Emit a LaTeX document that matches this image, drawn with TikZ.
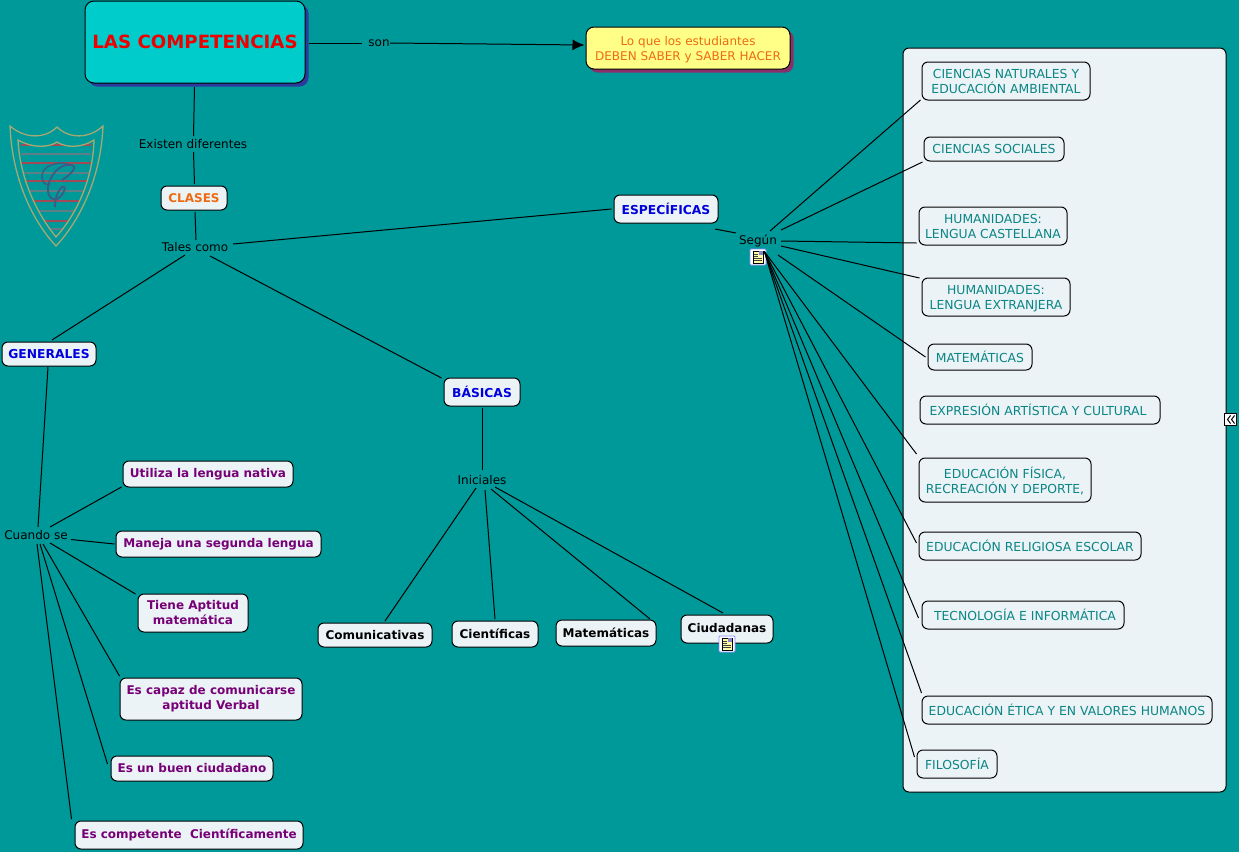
\documentclass[tikz,border=0pt]{standalone}
\usepackage{fontspec}
\setmainfont{DejaVu Sans}
\usetikzlibrary{arrows.meta, shadows}

\definecolor{fondo}{HTML}{009999}
\definecolor{caja}{HTML}{ECF3F6}
\definecolor{teal}{HTML}{0B8585}
\definecolor{morado}{HTML}{770077}
\definecolor{azulfuerte}{HTML}{0000DD}
\definecolor{naranja}{HTML}{EE6A11}
\definecolor{escudo}{HTML}{A5A873}
\definecolor{raya}{HTML}{A24A55}
\definecolor{rayagris}{HTML}{5F7F86}
\definecolor{letra}{HTML}{3A5C85}

\tikzset{
    concepto/.style={draw=black, line width=1pt, fill=caja, rounded corners=6pt, inner sep=0pt, align=center, font=\fontsize{12}{15}\selectfont},
    area/.style={concepto, text=teal, text depth=-1pt, font=\fontsize{12.4}{15}\selectfont},
    habilidad/.style={concepto, text=morado, font=\fontsize{12}{15}\selectfont\bfseries},
    clase/.style={concepto, text=azulfuerte, text depth=-2pt, font=\fontsize{12.3}{15}\selectfont\bfseries},
    inicial/.style={concepto, text=black, text depth=-1pt, font=\fontsize{12}{15}\selectfont\bfseries},
    frase/.style={inner sep=0pt, font=\fontsize{12}{15}\selectfont},
    enlace/.style={line width=1pt, black},
    icono/.style={draw=blue!45, line width=0.8pt, fill=white, rounded corners=1pt, minimum size=16pt, inner sep=0pt}
}

\begin{document}
\begin{tikzpicture}[x=1pt, y=-1pt]
    \useasboundingbox (0,0) rectangle (1239,852);
    \fill[fondo] (0,0) rectangle (1239,852);

    % Escudo
    \begin{scope}
        \clip (18,140) .. controls (32,148) and (48,148) .. (57,142) .. controls (66,148) and (82,148) .. (94,140) .. controls (93,180) and (76,215) .. (56,237) .. controls (38,215) and (20,180) .. (18,140) -- cycle;
        \foreach \y/\tono in {145/raya, 154/rayagris, 163/raya, 173/rayagris, 181/raya, 191/rayagris, 201/raya, 211/rayagris, 221/raya, 229/rayagris} {
            \draw[\tono, line width=1.8pt] (21,\y) -- (91,\y);
        }
    \end{scope}
    \draw[escudo, line width=1.3pt] (10,126) .. controls (25,139) and (45,139) .. (57,127) .. controls (69,139) and (89,139) .. (103,126) .. controls (101,175) and (82,218) .. (56,246) .. controls (30,218) and (12,175) .. (10,126) -- cycle;
    \draw[escudo, line width=1.3pt] (18,140) .. controls (32,148) and (48,148) .. (57,142) .. controls (66,148) and (82,148) .. (94,140) .. controls (93,180) and (76,215) .. (56,237) .. controls (38,215) and (20,180) .. (18,140) -- cycle;
    \draw[letra, line width=1.8pt] (62,180) .. controls (72,174) and (78,166) .. (71,165) .. controls (60,163) and (50,175) .. (48,187) .. controls (47,198) and (54,203) .. (60,197) .. controls (66,191) and (66,185) .. (62,187) .. controls (58,190) and (55,198) .. (55,207);
    \draw[letra, line width=1.4pt] (71,165) .. controls (58,160) and (42,166) .. (42,176) .. controls (42,183) and (46,186) .. (50,184);

    % Panel de areas
    \draw[draw=black, line width=1pt, fill=caja, rounded corners=6pt] (903,48) rectangle (1226,792);

    % Conceptos principales
    \node[concepto, fill={rgb,255:red,0;green,204;blue,204}, text={rgb,255:red,238;green,0;blue,0}, font=\fontsize{18.2}{20}\selectfont\bfseries, minimum width=220pt, minimum height=82pt, rounded corners=9pt, drop shadow={shadow xshift=3.5pt, shadow yshift=-3.5pt, fill={rgb,255:red,43;green,58;blue,156}, opacity=1}] (las) at (195,42) {LAS COMPETENCIAS};
    \node[concepto, fill={rgb,255:red,255;green,255;blue,136}, text=naranja, text depth=-1pt, minimum width=204pt, minimum height=42pt, rounded corners=8pt, drop shadow={shadow xshift=3.5pt, shadow yshift=-3.5pt, fill={rgb,255:red,139;green,47;blue,107}, opacity=1}] (nota) at (688,48) {Lo que los estudiantes\\DEBEN SABER y SABER HACER};
    \node[concepto, text=naranja, font=\fontsize{12}{15}\selectfont\bfseries, minimum width=66pt, minimum height=24pt] (clases) at (194,198) {CLASES};
    \node[clase, minimum width=104pt, minimum height=28pt] (espec) at (666,209) {ESPECÍFICAS};
    \node[clase, minimum width=94pt, minimum height=24pt] (gen) at (49,354) {GENERALES};
    \node[clase, minimum width=76pt, minimum height=28pt] (bas) at (482,392) {BÁSICAS};

    % Frases de enlace
    \node[frase] (son) at (379,43) {son};
    \node[frase] (existen) at (193,144) {Existen diferentes};
    \node[frase] (tales) at (195,247) {Tales como};
    \node[frase] (segun) at (758,241) {Según};
    \node[frase] (iniciales) at (482,480) {Iniciales};
    \node[frase] (cuando) at (36,535) {Cuando se};

    % Generales
    \foreach \nombre/\cx/\cy/\w/\h/\texto in {
        utiliza/208/474/170/26/{Utiliza la lengua nativa},
        maneja/218.5/544/205/26/{Maneja una segunda lengua},
        tiene/193/613/110/38/{Tiene Aptitud\\matemática},
        capaz/211/699/182/42/{Es capaz de comunicarse\\aptitud Verbal},
        ciudadano/192/768.5/162/25/{Es un buen ciudadano},
        compet/189/835/228/28/{Es competente\ \ Científicamente}} {
        \node[habilidad, minimum width=\w pt, minimum height=\h pt] (\nombre) at (\cx,\cy) {\texto};
    }

    % Basicas
    \foreach \nombre/\cx/\cy/\w/\h/\texto in {
        comun/375/635/114/24/Comunicativas,
        cient/495/634/86/26/Científicas,
        mate/606/633/100/26/Matemáticas} {
        \node[inicial, minimum width=\w pt, minimum height=\h pt] (\nombre) at (\cx,\cy) {\texto};
    }
    \node[inicial, text depth=3pt, minimum width=92pt, minimum height=28pt] (ciud) at (727,629) {Ciudadanas};

    % Especificas
    \foreach \nombre/\cx/\cy/\w/\h/\texto in {
        cnat/1006/81/168/38/{CIENCIAS NATURALES Y\\EDUCACIÓN AMBIENTAL},
        csoc/994/149/140/24/{CIENCIAS SOCIALES},
        lcas/993/226/148/38/{HUMANIDADES:\\LENGUA CASTELLANA},
        lext/996/297/148/38/{HUMANIDADES:\\LENGUA EXTRANJERA},
        amat/980/357/104/26/{MATEMÁTICAS},
        expr/1040/410/240/28/{EXPRESIÓN ARTÍSTICA Y CULTURAL\ },
        fisi/1005/480/172/44/{EDUCACIÓN FÍSICA,\\RECREACIÓN Y DEPORTE,},
        reli/1030/546/222/28/{EDUCACIÓN RELIGIOSA ESCOLAR},
        tecn/1023/615/202/28/{\ TECNOLOGÍA E INFORMÁTICA},
        etic/1067/710/290/28/{EDUCACIÓN ÉTICA Y EN VALORES HUMANOS},
        filo/957/764/80/28/{FILOSOFÍA}} {
        \node[area, minimum width=\w pt, minimum height=\h pt] (\nombre) at (\cx,\cy) {\texto};
    }

    % Iconos
    \node[icono] (iconsegun) at (758,257) {};
    \node[icono] (iconciud) at (727,644) {};
    \foreach \i in {iconsegun, iconciud} {
        \fill[yellow!35] ([shift={(-5,-6)}]\i.center) rectangle ([shift={(5,6)}]\i.center);
        \draw[black, line width=0.6pt] ([shift={(-5,-6)}]\i.center) rectangle ([shift={(5,6)}]\i.center);
        \fill[blue!35!gray!70] ([shift={(1,-6)}]\i.center) rectangle ([shift={(5,-2)}]\i.center);
        \foreach \d in {-3,-1} {
            \draw[black!75, line width=0.5pt] ([shift={(-4,\d)}]\i.center) -- ([shift={(0,\d)}]\i.center);
        }
        \foreach \d in {1.5,3.5} {
            \draw[black!75, line width=0.5pt] ([shift={(-4,\d)}]\i.center) -- ([shift={(4,\d)}]\i.center);
        }
    }

    % Boton de plegar
    \node[draw=black, fill=white, line width=0.8pt, minimum size=12pt, inner sep=0pt] (plegar) at (1230.5,419.5) {};
    \foreach \d in {-3,1} {
        \draw[black, line width=1pt] ([shift={(\d+3,-4)}]plegar.center) -- ([shift={(\d,0)}]plegar.center) -- ([shift={(\d+3,4)}]plegar.center);
    }

    % Enlaces
    \draw[enlace] ([shift={(114,1.5)}]las.center) -- ([shift={(-17,0.5)}]son.center);
    \draw[enlace, -{Latex[length=12pt, width=11pt]}] ([shift={(11,0)}]son.center) -- ([shift={(-1,-3)}]nota.west);
    \draw[enlace] ([shift={(-0.5,45)}]las.center) -- ([shift={(0.5,-8)}]existen.center);
    \draw[enlace] ([shift={(0.5,8)}]existen.center) -- ([shift={(0.5,-14)}]clases.center);
    \draw[enlace] ([shift={(1,14)}]clases.center) -- ([shift={(1,-7)}]tales.center);
    \draw[enlace] ([shift={(38,-3)}]tales.center) -- ([shift={(-2,0)}]espec.west);
    \draw[enlace] ([shift={(-10,8)}]tales.center) -- ([shift={(3,-14)}]gen.center);
    \draw[enlace] ([shift={(15,9)}]tales.center) -- ([shift={(-2,-14)}]bas.west);
    \draw[enlace] ([shift={(49,20)}]espec.center) -- ([shift={(-22,-8)}]segun.center);
    \draw[enlace] ([shift={(-1,13)}]gen.center) -- ([shift={(2,-8)}]cuando.center);
    \draw[enlace] ([shift={(0.5,16)}]bas.center) -- ([shift={(0.5,-10)}]iniciales.center);

    % Desde Cuando se
    \foreach \sx/\sy/\destino/\dx/\dy in {
        14/-8/utiliza/-1/13,
        35/4.5/maneja/-1/0,
        14/8/tiene/-2/-19,
        7/9/capaz/0/-23,
        4/9/ciudadano/-3/-4.5,
        1/9/compet/-3/-16} {
        \draw[enlace] ([shift={(\sx,\sy)}]cuando.center) -- ([shift={(\dx,\dy)}]\destino.west);
    }

    % Desde Iniciales
    \foreach \sx/\sy/\destino/\dx/\dy in {
        -6/8/comun/10/-14,
        3/10/cient/0/-15,
        9/9/mate/44/-14,
        13/7/ciud/-4/-16} {
        \draw[enlace] ([shift={(\sx,\sy)}]iniciales.center) -- ([shift={(\dx,\dy)}]\destino.center);
    }

    % Desde Segun
    \foreach \sx/\sy/\destino/\dx/\dy in {
        12/-10/cnat/-1/19,
        23/-11/csoc/-1/13,
        23/0/lcas/-2/17,
        23/5/lext/-2/-19,
        20/14/amat/-2/0} {
        \draw[enlace] ([shift={(\sx,\sy)}]segun.center) -- ([shift={(\dx,\dy)}]\destino.west);
    }
    \coordinate (haz) at ([shift={(-2,3)}]iconsegun.north east);
    \foreach \destino/\dx/\dy in {
        fisi/-2/-26,
        reli/-2/-3,
        tecn/-3/3,
        etic/0/-17,
        filo/-2/-7} {
        \draw[enlace] (haz) -- ([shift={(\dx,\dy)}]\destino.west);
    }
\end{tikzpicture}
\end{document}
